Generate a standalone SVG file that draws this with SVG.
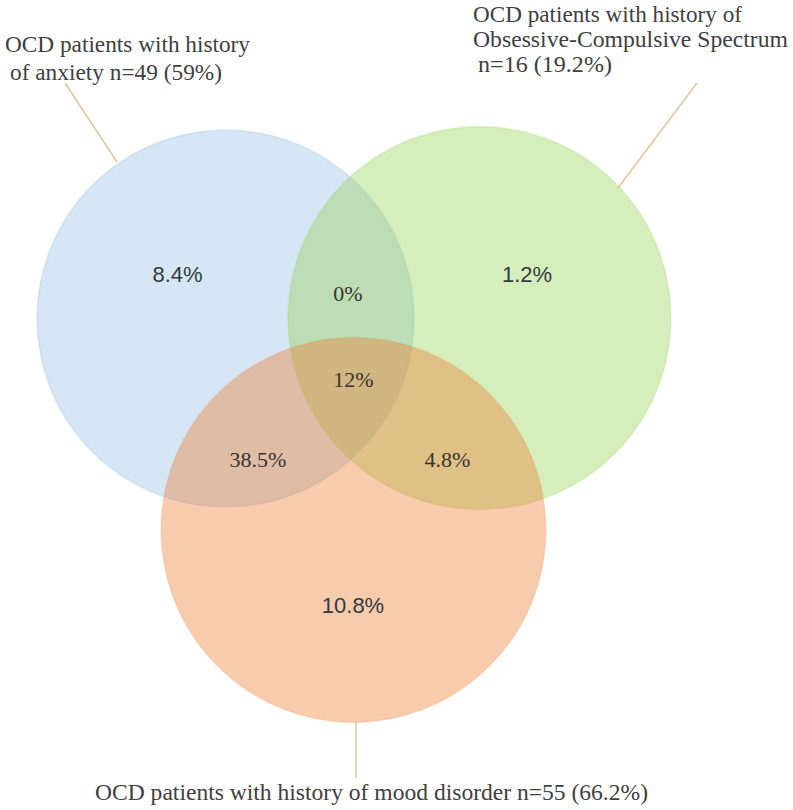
<svg xmlns="http://www.w3.org/2000/svg" width="793" height="810" viewBox="0 0 793 810">
<style>
.lbl{font-size:23px;fill:#404040}
.pct{font-size:22px;fill:#3a3330}
.pcts{font-family:'Liberation Sans',Arial,sans-serif;font-size:22px;fill:#333a40}
.lead{stroke:#e3c59c;stroke-width:1.5;fill:none}
.big{font-size:24px}
</style>
<rect width="793" height="810" fill="#ffffff"/>
<g id="connectors">
<line class="lead" x1="65" y1="83" x2="117" y2="162"/>
<line class="lead" x1="697" y1="83" x2="618" y2="188"/>
<line class="lead" x1="356" y1="722" x2="356" y2="778"/>
</g>
<g id="anxiety">
<circle cx="225.5" cy="318.5" r="188.5" fill="#5B9BD5" fill-opacity="0.25" stroke="#5B9BD5" stroke-opacity="0.12" stroke-width="2"/>
<text class="lbl" font-family="Liberation Serif, Times New Roman, serif" x="5" y="52" textLength="245" lengthAdjust="spacingAndGlyphs">OCD patients with history</text>
<text class="lbl" font-family="Liberation Serif, Times New Roman, serif" x="10" y="80" textLength="212" lengthAdjust="spacingAndGlyphs">of anxiety n=49 (59%)</text>
</g>
<g id="spectrum">
<circle cx="479.5" cy="318" r="191.5" fill="#92D050" fill-opacity="0.38" stroke="#92D050" stroke-opacity="0.15" stroke-width="2"/>
<text class="lbl" font-family="Liberation Serif, Times New Roman, serif" x="473" y="22" textLength="269" lengthAdjust="spacingAndGlyphs">OCD patients with history of</text>
<text class="lbl" font-family="Liberation Serif, Times New Roman, serif" x="473" y="47" textLength="315" lengthAdjust="spacingAndGlyphs">Obsessive-Compulsive Spectrum</text>
<text class="lbl" font-family="Liberation Serif, Times New Roman, serif" x="478" y="72" textLength="134" lengthAdjust="spacingAndGlyphs">n=16 (19.2%)</text>
</g>
<g id="mood">
<circle cx="353.5" cy="530" r="192.5" fill="#ED7D31" fill-opacity="0.4" stroke="#ED7D31" stroke-opacity="0.1" stroke-width="2"/>
<text class="lbl big" font-family="Liberation Serif, Times New Roman, serif" x="95" y="800" textLength="553" lengthAdjust="spacingAndGlyphs">OCD patients with history of mood disorder n=55 (66.2%)</text>
</g>
<g id="region-labels">
<text class="pcts" x="177.5" y="282" text-anchor="middle">8.4%</text>
<text class="pcts" x="527" y="282" text-anchor="middle">1.2%</text>
<text class="pct" font-family="Liberation Serif, Times New Roman, serif" x="348" y="301" text-anchor="middle">0%</text>
<text class="pct" font-family="Liberation Serif, Times New Roman, serif" x="353.5" y="387" text-anchor="middle">12%</text>
<text class="pct" font-family="Liberation Serif, Times New Roman, serif" x="258" y="467" text-anchor="middle">38.5%</text>
<text class="pct" font-family="Liberation Serif, Times New Roman, serif" x="447.5" y="467" text-anchor="middle">4.8%</text>
<text class="pcts" x="353" y="613" text-anchor="middle">10.8%</text>
</g>
</svg>
